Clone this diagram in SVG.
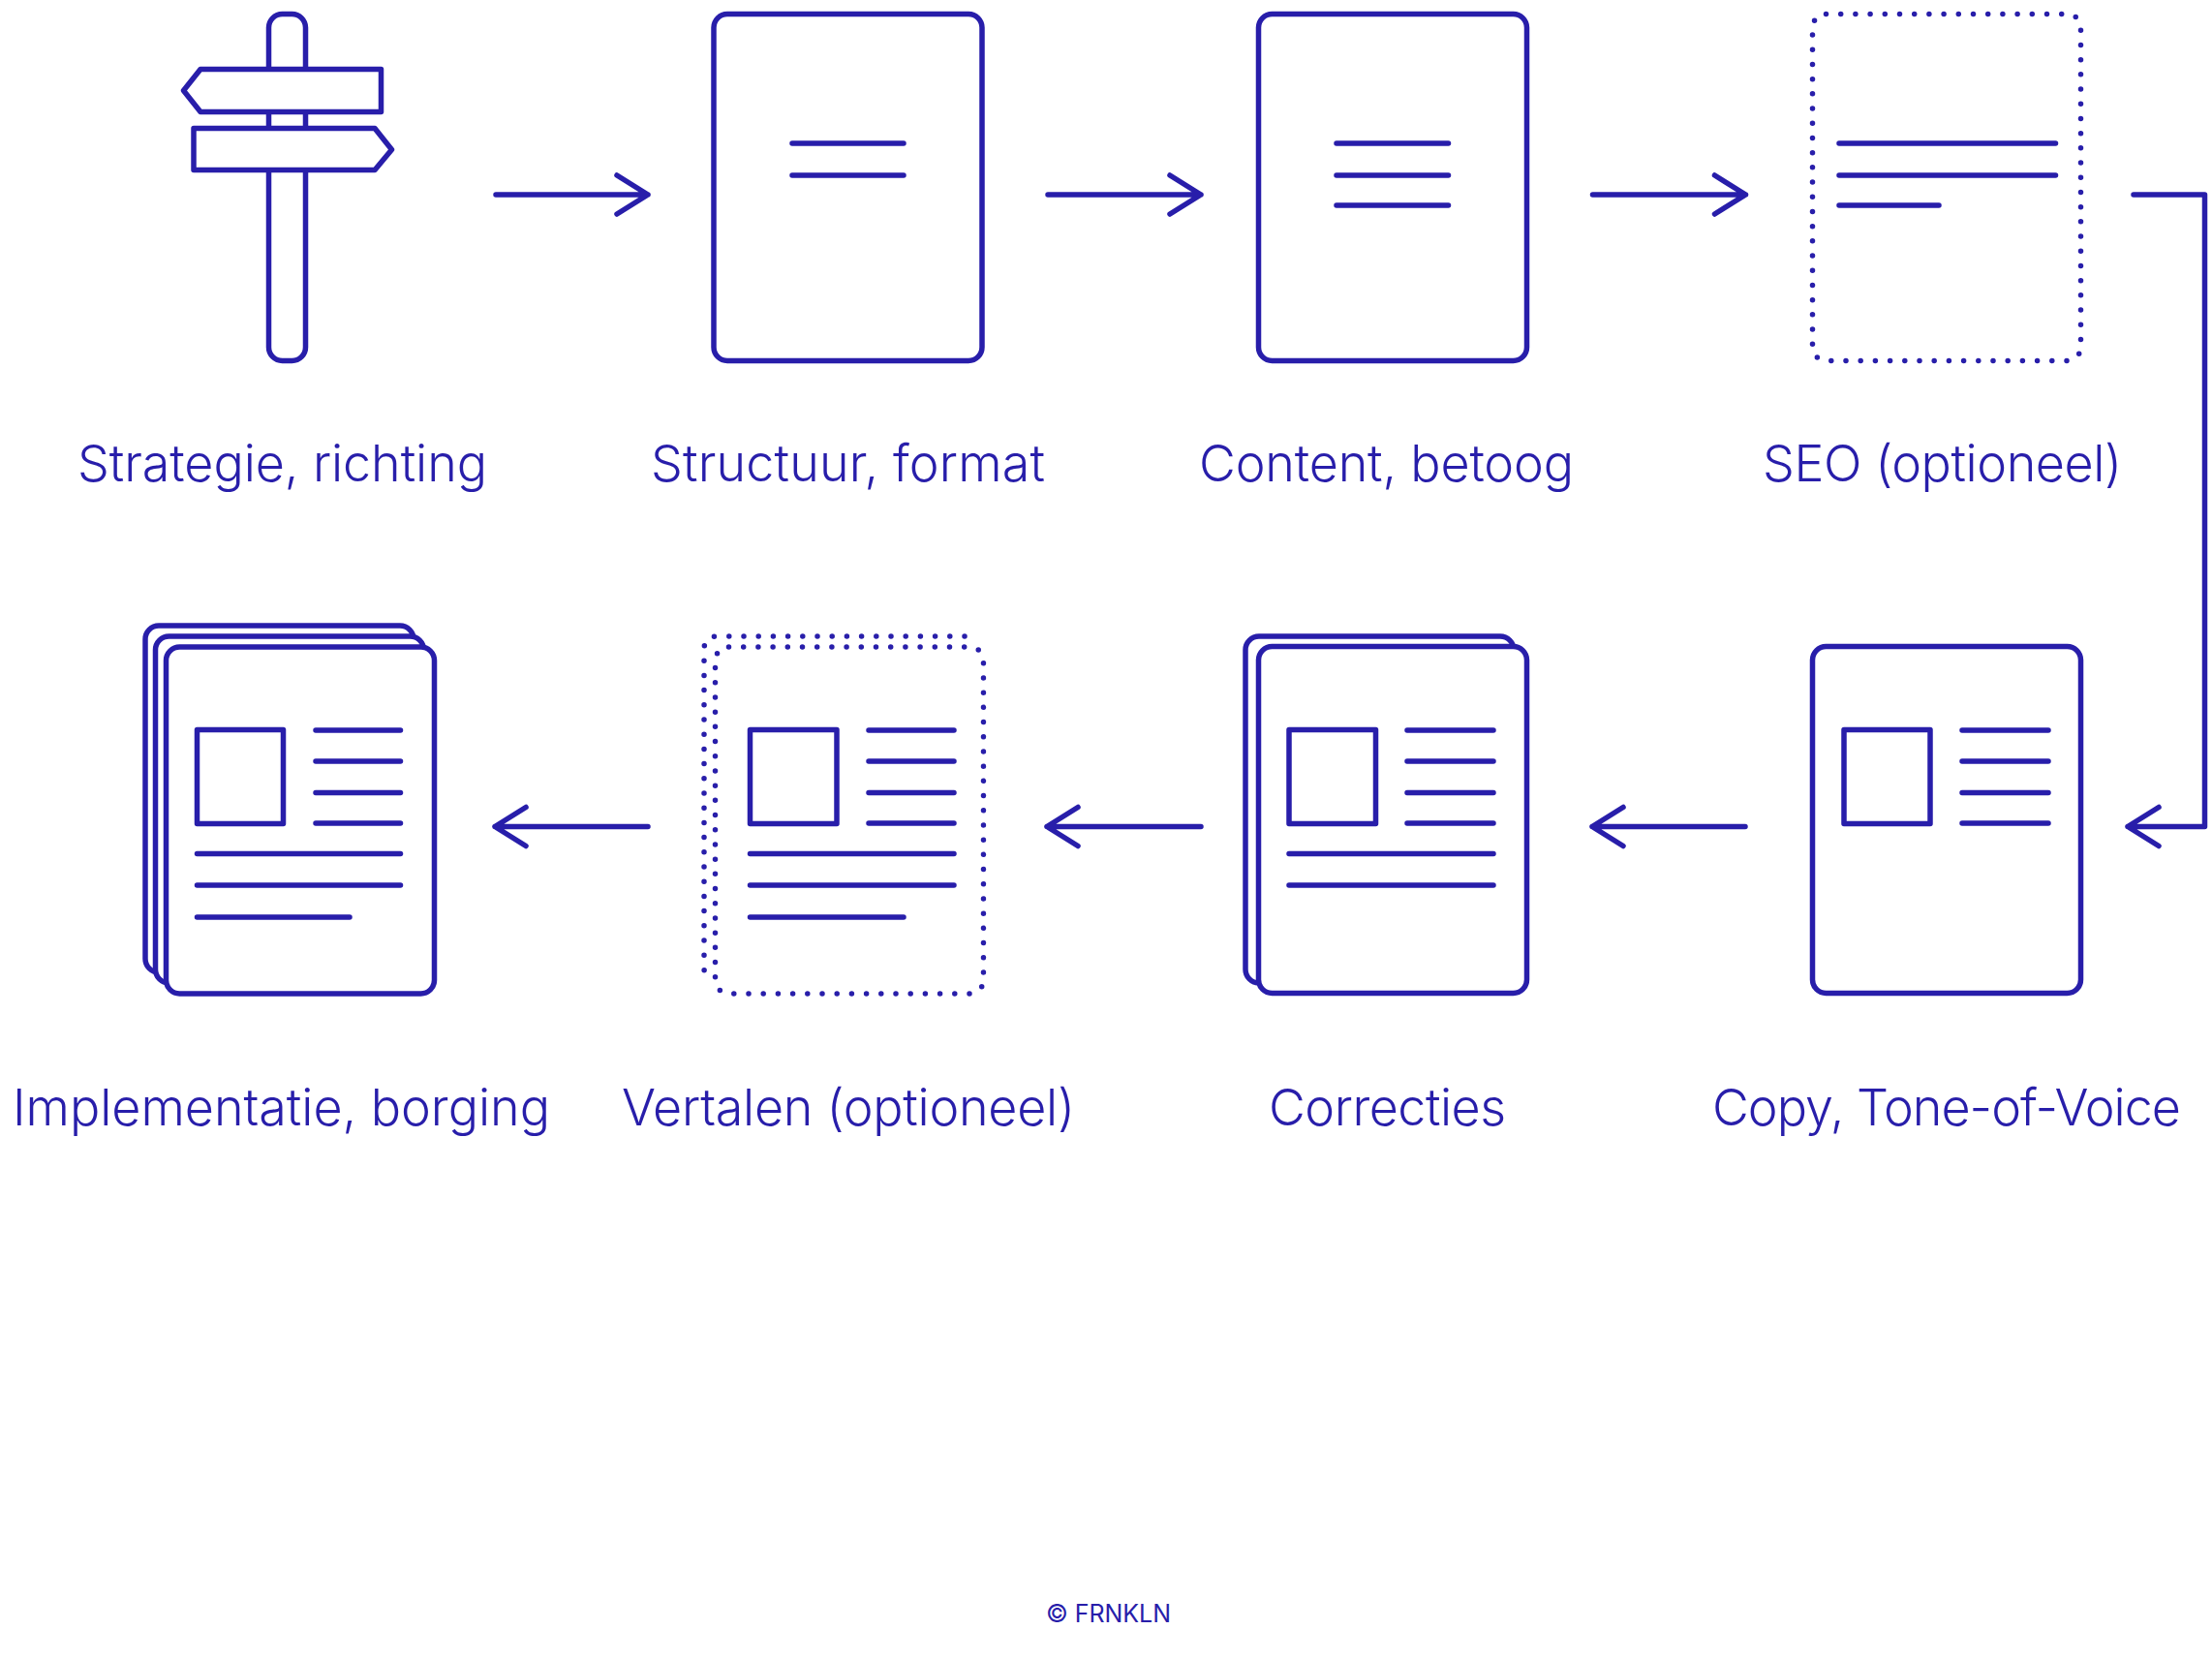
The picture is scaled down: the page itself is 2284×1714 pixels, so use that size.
<svg xmlns="http://www.w3.org/2000/svg" width="2284" height="1714" viewBox="0 0 2284 1714">
<defs><style>
.s{fill:none;stroke:#281eaa;stroke-width:5.500;stroke-linecap:round;stroke-linejoin:round}
.w{fill:#fff;stroke:#281eaa;stroke-width:5.500;stroke-linejoin:round}
.d{fill:none;stroke:#281eaa;stroke-width:5.500;stroke-linecap:round;stroke-dasharray:0 15.2}
.t{font-family:"Inter","Liberation Sans",sans-serif;font-weight:300;font-size:52px;fill:#281eaa}
.c{font-family:"Inter","Liberation Sans",sans-serif;font-weight:400;font-size:25px;fill:#281eaa}
</style></defs>
<rect width="2284" height="1714" fill="#fff"/>
<g id="connectors" class="s">
<path d="M512 201H669M637 181L669 201L637 221"/>
<path d="M1082 201H1240M1208 181L1240 201L1208 221"/>
<path d="M1644.500 201H1802.500M1770.500 181L1802.500 201L1770.500 221"/>
<path d="M2203 201H2276.500V853.500H2197M2229 833.500L2197 853.500L2229 873.500"/>
<path d="M1802 853.500H1644M1676 833.500L1644 853.500L1676 873.500"/>
<path d="M1240 853.500H1081M1113 833.500L1081 853.500L1113 873.500"/>
<path d="M669 853.500H511M543 833.500L511 853.500L543 873.500"/>
</g>
<g id="n1">
<rect class="s" x="277.500" y="14.500" width="38" height="358" rx="14"/>
<path class="w" d="M207 71.500H393.500V115.500H207L189.500 93.500Z"/>
<path class="w" d="M200 132.500H387L404.500 154.500L387 175.500H200Z"/>
<text class="t" x="80" y="497" textLength="423">Strategie, richting</text>
</g>
<g id="n2">
<rect class="s" x="737" y="14.500" width="277" height="358" rx="14"/>
<path class="s" d="M818 148H933M818 181H933"/>
<text class="t" x="672" y="497" textLength="407">Structuur, format</text>
</g>
<g id="n3">
<rect class="s" x="1299.500" y="14.500" width="277" height="358" rx="14"/>
<path class="s" d="M1380 148H1495.500M1380 181H1495.500M1380 212H1495.500"/>
<text class="t" x="1238" y="497" textLength="387">Content, betoog</text>
</g>
<g id="n4">
<rect class="d" x="1871.500" y="14.500" width="277" height="358" rx="14"/>
<path class="s" d="M1899 148H2122.500M1899 181H2122.500M1899 212H2002"/>
<text class="t" x="1820" y="497" textLength="371">SEO (optioneel)</text>
</g>
<g id="n5">
<rect class="s" x="1871.500" y="667.500" width="277" height="358" rx="14"/>
<rect class="s" x="1904" y="753.500" width="89" height="97"/>
<path class="s" d="M2026 754H2115M2026 786H2115M2026 818.500H2115M2026 850H2115"/>
<text class="t" x="1768" y="1162" textLength="484">Copy, Tone-of-Voice</text>
</g>
<g id="n6">
<rect class="s" x="1286" y="657" width="277" height="358" rx="14"/>
<rect class="w" x="1299.500" y="667.500" width="277" height="358" rx="14"/>
<rect class="s" x="1331" y="753.500" width="89.500" height="97"/>
<path class="s" d="M1453 754H1542M1453 786H1542M1453 818.500H1542M1453 850H1542M1331 881.500H1542M1331 914H1542"/>
<text class="t" x="1310" y="1162" textLength="245">Correcties</text>
</g>
<g id="n7">
<path class="d" d="M996 657H741Q727 657 727 671V998Q727 1012 733 1012"/>
<rect class="d" x="738.500" y="668" width="277" height="358" rx="14"/>
<rect class="s" x="774.500" y="753.500" width="89.500" height="97"/>
<path class="s" d="M897 754H985M897 786H985M897 818.500H985M897 850H985M774.500 881.500H985M774.500 914H985M774.500 947H933"/>
<text class="t" x="642" y="1162" textLength="468">Vertalen (optioneel)</text>
</g>
<g id="n8">
<rect class="s" x="150" y="646" width="277" height="358" rx="14"/>
<rect class="w" x="160.500" y="657" width="277" height="358" rx="14"/>
<rect class="w" x="171.500" y="668" width="277" height="358" rx="14"/>
<rect class="s" x="203.500" y="753.500" width="89" height="97"/>
<path class="s" d="M326 754H413.500M326 786H413.500M326 818.500H413.500M326 850H413.500M203.500 881.500H413.500M203.500 914H413.500M203.500 947H361"/>
<text class="t" x="13" y="1162" textLength="555">Implementatie, borging</text>
</g>
<text id="credit" class="c" x="1080" y="1675" textLength="129">© FRNKLN</text>
</svg>
